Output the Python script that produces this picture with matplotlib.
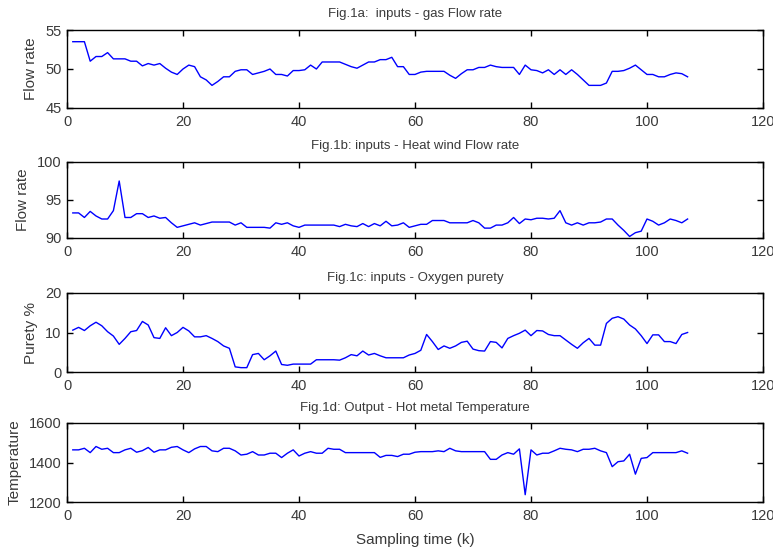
import matplotlib
matplotlib.use("Agg")
import matplotlib.pyplot as plt
import numpy as np

k = list(range(1, 108))

gas_flow = [53.5, 53.5, 53.5, 51.0, 51.6, 51.6, 52.1, 51.3, 51.3, 51.3,
            51.0, 51.0, 50.4, 50.7, 50.5, 50.7, 50.1, 49.6, 49.3, 50.0,
            50.5, 50.3, 49.0, 48.6, 47.9, 48.4, 49.0, 49.0, 49.7, 49.9,
            49.9, 49.3, 49.5, 49.7, 50.0, 49.3, 49.3, 49.1, 49.8, 49.8,
            49.9, 50.5, 50.0, 50.9, 50.9, 50.9, 50.9, 50.6, 50.3, 50.1,
            50.5, 50.9, 50.9, 51.2, 51.2, 51.5, 50.3, 50.3, 49.3, 49.3,
            49.6, 49.7, 49.7, 49.7, 49.7, 49.2, 48.8, 49.4, 49.9, 49.9,
            50.2, 50.2, 50.5, 50.3, 50.2, 50.2, 50.2, 49.3, 50.5, 49.9,
            49.8, 49.5, 49.9, 49.3, 49.9, 49.3, 49.9, 49.3, 48.6, 47.9,
            47.9, 47.9, 48.2, 49.7, 49.7, 49.8, 50.1, 50.5, 49.9, 49.3,
            49.3, 49.0, 49.0, 49.3, 49.5, 49.4, 49.0]

heat_wind = [93.3, 93.3, 92.7, 93.5, 92.9, 92.5, 92.5, 93.6, 97.5, 92.7,
             92.7, 93.2, 93.2, 92.7, 92.9, 92.6, 92.7, 92.0, 91.4, 91.6,
             91.8, 92.0, 91.7, 91.9, 92.1, 92.1, 92.1, 92.1, 91.7, 92.0,
             91.4, 91.4, 91.4, 91.4, 91.3, 92.0, 91.8, 92.0, 91.6, 91.4,
             91.7, 91.7, 91.7, 91.7, 91.7, 91.7, 91.5, 91.8, 91.6, 91.5,
             91.9, 91.5, 91.9, 91.6, 92.2, 91.6, 91.7, 92.0, 91.4, 91.6,
             91.8, 91.8, 92.3, 92.3, 92.3, 92.0, 92.0, 92.0, 92.0, 92.3,
             92.0, 91.3, 91.3, 91.7, 91.7, 92.0, 92.7, 91.9, 92.5, 92.4,
             92.6, 92.6, 92.5, 92.6, 93.6, 92.0, 91.7, 92.0, 91.7, 92.0,
             92.0, 92.1, 92.5, 92.5, 91.7, 91.0, 90.2, 90.7, 90.9, 92.5,
             92.2, 91.7, 92.0, 92.5, 92.3, 92.0, 92.5]

purity = [10.6, 11.3, 10.5, 11.7, 12.6, 11.7, 10.2, 9.1, 7.0, 8.5,
          10.2, 10.5, 12.8, 11.9, 8.7, 8.5, 11.2, 9.2, 10.0, 11.3,
          10.4, 8.9, 8.9, 9.2, 8.5, 7.7, 6.6, 6.0, 1.3, 1.1,
          1.1, 4.4, 4.7, 3.1, 4.1, 5.3, 1.9, 1.7, 2.0, 2.0,
          2.0, 2.0, 3.1, 3.1, 3.1, 3.1, 3.0, 3.6, 4.4, 4.1,
          5.3, 4.3, 4.7, 4.1, 3.6, 3.6, 3.6, 3.6, 4.3, 4.7,
          5.5, 9.5, 7.7, 5.7, 6.6, 6.0, 6.6, 7.5, 7.8, 5.8,
          5.4, 5.3, 7.7, 7.5, 6.1, 8.5, 9.2, 9.8, 10.6, 9.2,
          10.5, 10.4, 9.5, 9.2, 9.2, 8.1, 7.0, 6.0, 7.4, 8.5,
          6.8, 6.8, 12.3, 13.6, 14.0, 13.4, 11.9, 10.9, 9.2, 7.2,
          9.4, 9.4, 7.7, 7.7, 7.2, 9.5, 10.0]

temperature = [1464, 1464, 1472, 1450, 1481, 1467, 1472, 1450, 1450, 1464,
               1472, 1452, 1460, 1476, 1452, 1464, 1464, 1477, 1481, 1464,
               1450, 1469, 1481, 1481, 1459, 1455, 1472, 1472, 1459, 1438,
               1442, 1455, 1438, 1438, 1447, 1447, 1425, 1447, 1464, 1433,
               1447, 1455, 1447, 1447, 1472, 1467, 1467, 1450, 1450, 1450,
               1450, 1450, 1450, 1426, 1436, 1436, 1430, 1442, 1442, 1452,
               1455, 1455, 1455, 1459, 1455, 1472, 1459, 1455, 1455, 1455,
               1455, 1455, 1416, 1416, 1438, 1450, 1442, 1469, 1237, 1464,
               1438, 1447, 1447, 1459, 1472, 1467, 1464, 1455, 1467, 1467,
               1472, 1459, 1450, 1379, 1404, 1408, 1442, 1341, 1421, 1425,
               1450, 1450, 1450, 1450, 1450, 1459, 1447]

titles = ["Fig.1a:  inputs - gas Flow rate",
          "Fig.1b: inputs - Heat wind Flow rate",
          "Fig.1c: inputs - Oxygen purety",
          "Fig.1d: Output - Hot metal Temperature"]
ylabels = ["Flow rate", "Flow rate", "Purety %", "Temperature"]
ylims = [(45, 55), (90, 100), (0, 20), (1200, 1600)]
yticks = [[45, 50, 55], [90, 95, 100], [0, 10, 20], [1200, 1400, 1600]]
xticks = [0, 20, 40, 60, 80, 100, 120]
xlabel = "Sampling time (k)"

plt.rcParams['font.family'] = ['Liberation Sans Narrow', 'Liberation Sans', 'DejaVu Sans']

W, H = 773, 554
fig = plt.figure(figsize=(W / 100, H / 100), dpi=100)

# axes boxes in pixels: (top, bottom)
boxes = [(30, 108), (162, 238), (293, 372), (423, 502)]
left_px, right_px = 67, 763
series = [gas_flow, heat_wind, purity, temperature]
text_col = "#3a3a3a"

for i, (top, bot) in enumerate(boxes):
    ax = fig.add_axes([left_px / W, 1 - bot / H, (right_px - left_px) / W, (bot - top) / H])
    ax.plot(k, series[i], color="#0000ff", linewidth=1.0)
    ax.set_xlim(0, 120)
    ax.set_ylim(*ylims[i])
    ax.set_xticks(xticks)
    ax.set_yticks(yticks[i])
    ax.tick_params(direction="in", top=True, right=True, length=4,
                   labelsize=10.5, labelcolor=text_col, width=1)
    ax.tick_params(axis="x", pad=5)
    ax.tick_params(axis="y", pad=4)
    for s in ax.spines.values():
        s.set_linewidth(1.0)
        s.set_color("black")
    ax.set_title(titles[i], fontsize=9.5, color=text_col, pad=9)
    ax.set_ylabel(ylabels[i], fontsize=11, color=text_col, labelpad=5)
    if i == 3:
        ax.set_xlabel(xlabel, fontsize=11, color=text_col, labelpad=7)

fig.savefig("out.png", dpi=100)
